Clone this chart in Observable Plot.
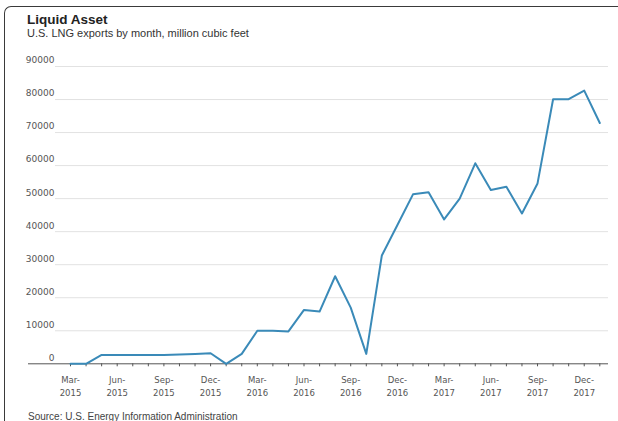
<!DOCTYPE html>
<html><head><meta charset="utf-8">
<script src="https://cdn.jsdelivr.net/npm/d3@7"></script>
<script src="https://cdn.jsdelivr.net/npm/@observablehq/plot@0.6"></script>
<style>
html,body{margin:0;padding:0;background:#fff;overflow:hidden;width:618px;height:421px;position:relative}
#frame{position:absolute;left:3.5px;top:6px;width:700px;height:500px;border-left:1.3px solid #3a3a3a;border-top:1.3px solid #3a3a3a;border-top-left-radius:7px}
#title{position:absolute;left:27px;top:12.6px;font:bold 13.5px/1 "Liberation Sans",Arial,sans-serif;color:#222;white-space:nowrap}
#subtitle{position:absolute;left:27px;top:28px;font:11px/1 "Liberation Sans",Arial,sans-serif;color:#333;white-space:nowrap}
#chart{position:absolute;left:0;top:50px}
#source{position:absolute;left:28px;top:412px;font:10px/1 "Liberation Sans",Arial,sans-serif;color:#444;white-space:nowrap}
</style></head>
<body>
<div id="frame"></div>
<div id="title">Liquid Asset</div>
<div id="subtitle">U.S. LNG exports by month, million cubic feet</div>
<div id="chart"></div>
<div id="source">Source: U.S. Energy Information Administration</div>
<script>
const months = ["2015-03","2015-04","2015-05","2015-06","2015-07","2015-08","2015-09","2015-10","2015-11","2015-12",
  "2016-01","2016-02","2016-03","2016-04","2016-05","2016-06","2016-07","2016-08","2016-09","2016-10","2016-11","2016-12",
  "2017-01","2017-02","2017-03","2017-04","2017-05","2017-06","2017-07","2017-08","2017-09","2017-10","2017-11","2017-12",
  "2018-01"];
const exportsMcf = [0,0,2700,2700,2700,2700,2700,2800,3000,3200,
  0,3000,10000,10000,9800,16300,15800,26500,17000,3000,32800,42000,
  51300,51900,43700,50000,60700,52600,53600,45500,54600,80100,80100,82700,
  72900];
const xTickMonths = ["2015-03","2015-06","2015-09","2015-12","2016-03","2016-06","2016-09","2016-12","2017-03","2017-06","2017-09","2017-12"];
const xTickLabels = ["Mar-\n2015","Jun-\n2015","Sep-\n2015","Dec-\n2015","Mar-\n2016","Jun-\n2016","Sep-\n2016","Dec-\n2016","Mar-\n2017","Jun-\n2017","Sep-\n2017","Dec-\n2017"];
const yTicks = [0,10000,20000,30000,40000,50000,60000,70000,80000,90000];

const data = months.map((m, i) => ({month: m, idx: i, value: exportsMcf[i]}));
const monthIdx = months.map((m, i) => i);
const labelIdx = xTickMonths.map(m => months.indexOf(m));

const chart = Plot.plot({
  width: 618,
  height: 360,
  marginLeft: 55,
  marginRight: 10,
  marginTop: 16,
  marginBottom: 46.7,
  style: {fontFamily: "DejaVu Sans, sans-serif", background: "transparent"},
  x: {type: "linear", domain: [0, months.length - 1], range: [70, 599.3]},
  y: {domain: [0, 90000]},
  marks: [
    Plot.ruleY(yTicks.filter(d => d > 0), {stroke: "#e2e2e2", strokeWidth: 1}),
    Plot.axisY({anchor: "left", label: null, ticks: yTicks, tickSize: 0, tickPadding: 1, dy: -6, fontSize: 9, fill: "#555", tickFormat: d3.format("d")}),
    Plot.ruleY([0], {stroke: "#555", strokeWidth: 1, insetLeft: -27}),
    Plot.axisX({label: null, ticks: monthIdx, tickSize: 3, tickFormat: () => "", stroke: "#555"}),
    Plot.axisX({label: null, ticks: labelIdx, tickSize: 0, tickPadding: 10, tickFormat: (d, i) => xTickLabels[i], fontSize: 8.5, lineHeight: 1.55, fill: "#555"}),
    Plot.line(data, {x: "idx", y: "value", stroke: "#3a8ab8", strokeWidth: 2})
  ]
});
document.getElementById("chart").appendChild(chart);
</script>
</body></html>
